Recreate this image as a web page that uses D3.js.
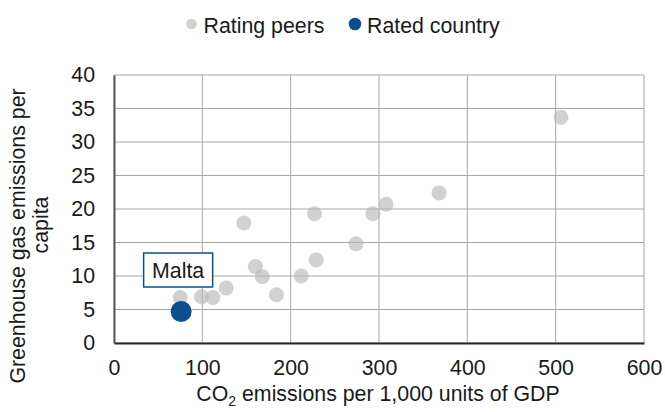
<!DOCTYPE html>
<html>
<head>
<meta charset="utf-8">
<script src="https://cdn.jsdelivr.net/npm/d3@7"></script>
<style>
  body { margin: 0; background: #fff; }
  svg text { font-family: "Liberation Sans", Arial, sans-serif; fill: #1a1a1a; }
</style>
</head>
<body>
<svg id="chart" width="665" height="412"></svg>
<script>
// Data
const peerX = [75, 99, 112, 127, 147, 160, 168, 184, 212, 227, 229, 274, 293, 308, 368, 506];
const peerY = [6.8, 6.9, 6.8, 8.2, 17.9, 11.4, 9.9, 7.2, 10.0, 19.3, 12.4, 14.8, 19.3, 20.7, 22.4, 33.7];
const ratedName = ["Malta"];
const ratedX = [76];
const ratedY = [4.7];
const xTicks = [0, 100, 200, 300, 400, 500, 600];
const yTicks = [0, 5, 10, 15, 20, 25, 30, 35, 40];
const legendLabels = ["Rating peers", "Rated country"];

const peerColor = "#b8b8b8";
const ratedColor = "#0b4f8c";
const FS = "21.33px";
const FF = "'Liberation Sans', Arial, sans-serif";

const svg = d3.select("#chart");
const m = { left: 114, right: 21, top: 75, bottom: 69 };
const W = 665, H = 412;
const x = d3.scaleLinear().domain([0, 600]).range([m.left, W - m.right]);
const y = d3.scaleLinear().domain([0, 40]).range([H - m.bottom, m.top]);

// Grid
const g = svg.append("g");
g.selectAll(".vg").data(xTicks).join("line")
  .attr("x1", d => x(d)).attr("x2", d => x(d))
  .attr("y1", y(40)).attr("y2", y(0))
  .attr("stroke", "#a6a6a6").attr("stroke-width", 1);
g.selectAll(".hg").data(yTicks).join("line")
  .attr("x1", x(0)).attr("x2", x(600))
  .attr("y1", d => y(d)).attr("y2", d => y(d))
  .attr("stroke", "#a6a6a6").attr("stroke-width", 1);

// Axes
const xAxis = svg.append("g").attr("transform", `translate(0,${y(0)})`)
  .call(d3.axisBottom(x).tickValues(xTicks).tickSize(0).tickPadding(17).tickFormat(d3.format("d")));
xAxis.select(".domain").attr("stroke", "#262626").attr("stroke-width", 2);
xAxis.selectAll("text").attr("font-size", FS).attr("fill", "#1a1a1a").style("font-family", FF);

const yAxis = svg.append("g").attr("transform", `translate(${x(0)},0)`)
  .call(d3.axisLeft(y).tickValues(yTicks).tickSize(0).tickPadding(19));
yAxis.select(".domain").attr("stroke", "#595959").attr("stroke-width", 2);
yAxis.selectAll("text").attr("font-size", FS).attr("fill", "#1a1a1a").style("font-family", FF);

// Points
const peers = peerX.map((v, i) => ({ x: v, y: peerY[i] }));
svg.append("g").selectAll("circle").data(peers).join("circle")
  .attr("cx", d => x(d.x)).attr("cy", d => y(d.y)).attr("r", 7.5)
  .attr("fill", peerColor).attr("fill-opacity", 0.65);

const rated = ratedX.map((v, i) => ({ x: v, y: ratedY[i], name: ratedName[i] }));
svg.append("g").selectAll("circle").data(rated).join("circle")
  .attr("cx", d => x(d.x)).attr("cy", d => y(d.y)).attr("r", 10.5)
  .attr("fill", ratedColor);

// Label box
rated.forEach(d => {
  const cx = x(d.x) - 3, cy = y(d.y) - 41.5;
  const lg = svg.append("g");
  lg.append("rect").attr("x", cx - 34.5).attr("y", cy - 17).attr("width", 69).attr("height", 34)
    .attr("fill", "#fff").attr("stroke", ratedColor).attr("stroke-width", 1.5);
  lg.append("text").attr("x", cx).attr("y", cy + 7.7).attr("text-anchor", "middle")
    .attr("font-size", FS).text(d.name);
});

// Axis titles
const xt = svg.append("text").attr("x", x(300) - 1).attr("y", 401).attr("text-anchor", "middle")
  .attr("font-size", FS);
xt.append("tspan").text("CO");
xt.append("tspan").attr("font-size", "14px").attr("dy", 5).text("2");
xt.append("tspan").attr("dy", -5).text(" emissions per 1,000 units of GDP");

svg.append("text").attr("transform", "translate(24.5,236) rotate(-90)").attr("text-anchor", "middle")
  .attr("font-size", FS).text("Greenhouse gas emissions per");
svg.append("text").attr("transform", "translate(47.5,225) rotate(-90)").attr("text-anchor", "middle")
  .attr("font-size", FS).text("capita");

// Legend
const leg = svg.append("g");
const legColors = [peerColor, ratedColor];
const legR = [5.3, 6.3];
const legX = [191.5, 355];
legendLabels.forEach((t, i) => {
  leg.append("circle").attr("cx", legX[i]).attr("cy", 24).attr("r", legR[i])
    .attr("fill", legColors[i]).attr("fill-opacity", i === 0 ? 0.65 : 1);
  leg.append("text").attr("x", legX[i] + 12).attr("y", 32.5).attr("font-size", FS).text(t);
});
</script>
</body>
</html>
